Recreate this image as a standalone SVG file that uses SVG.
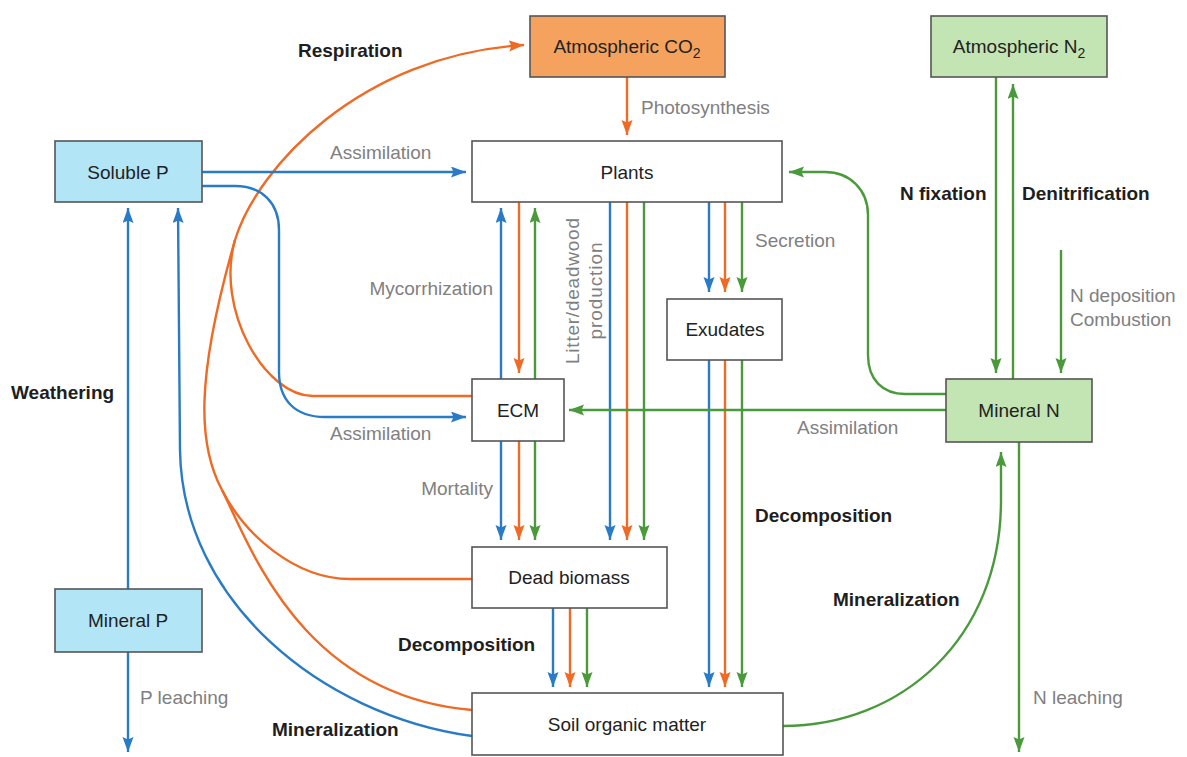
<svg xmlns="http://www.w3.org/2000/svg" width="1187" height="757" viewBox="0 0 1187 757">
<defs>
<style>
text{font-family:"Liberation Sans",Arial,sans-serif;font-size:19px}
.node{stroke:#555;stroke-width:1.6}
.nt{fill:#222;text-anchor:middle}
.gl{fill:#808080}
.bl{fill:#1e1e1e;font-weight:bold}
.b{stroke:#2a7bc6;stroke-width:2.4;fill:none}
.o{stroke:#ef6a24;stroke-width:2.4;fill:none}
.g{stroke:#4a9a3c;stroke-width:2.4;fill:none}
.mb{marker-end:url(#ab)}
.mo{marker-end:url(#ao)}
.mg{marker-end:url(#ag)}
</style>
<marker id="ab" markerUnits="userSpaceOnUse" markerWidth="16" markerHeight="12" refX="15" refY="5.5" orient="auto"><path d="M0,0 L15,5.5 L0,11 L2.5,5.5 z" fill="#2a7bc6"/></marker>
<marker id="ao" markerUnits="userSpaceOnUse" markerWidth="16" markerHeight="12" refX="15" refY="5.5" orient="auto"><path d="M0,0 L15,5.5 L0,11 L2.5,5.5 z" fill="#ef6a24"/></marker>
<marker id="ag" markerUnits="userSpaceOnUse" markerWidth="16" markerHeight="12" refX="15" refY="5.5" orient="auto"><path d="M0,0 L15,5.5 L0,11 L2.5,5.5 z" fill="#4a9a3c"/></marker>
</defs>
<rect width="1187" height="757" fill="#fff"/>

<g id="connectors">
<!-- Respiration (orange) -->
<path class="o mo" d="M222,490 C198,445 195,380 235,240 C257,168 360,55 524,45"/>
<path class="o" d="M472,579 L350,579 C295,579 245,535 222,490"/>
<path class="o" d="M472,710 C300,695 250,545 222,490"/>
<path class="o" d="M472,396 L313,396 C265,396 215,310 235,240"/>
<!-- Photosynthesis -->
<path class="o mo" d="M627,77 L627,135"/>
<!-- Soluble P -->
<path class="b mb" d="M202,172 L466,172"/>
<path class="b mb" d="M202,186 L235,186 C262,186 279,203 279,230 L279,372 C279,400 295,417 325,417 L466,417"/>
<path class="b mb" d="M128,589 L128,208"/>
<path class="b mb" d="M128,652 L128,752"/>
<path class="b mb" d="M472,736 C320,715 182,600 180,450 L178,208"/>
<!-- Plants <-> ECM -->
<path class="b mb" d="M501,379 L501,208"/>
<path class="o mo" d="M519,202 L519,373"/>
<path class="g mg" d="M535,379 L535,208"/>
<!-- ECM -> Dead biomass -->
<path class="b mb" d="M501,441 L501,540"/>
<path class="o mo" d="M519,441 L519,540"/>
<path class="g mg" d="M535,441 L535,540"/>
<!-- Plants -> Dead biomass -->
<path class="b mb" d="M610,202 L610,540"/>
<path class="o mo" d="M627,202 L627,540"/>
<path class="g mg" d="M644,202 L644,540"/>
<!-- Plants -> Exudates -->
<path class="b mb" d="M709,202 L709,292"/>
<path class="o mo" d="M725,202 L725,292"/>
<path class="g mg" d="M742,202 L742,292"/>
<!-- Exudates -> SOM -->
<path class="b mb" d="M709,360 L709,687"/>
<path class="o mo" d="M725,360 L725,687"/>
<path class="g mg" d="M742,360 L742,687"/>
<!-- Dead biomass -> SOM -->
<path class="b mb" d="M553,608 L553,687"/>
<path class="o mo" d="M570,608 L570,687"/>
<path class="g mg" d="M587,608 L587,687"/>
<!-- Nitrogen -->
<path class="g mg" d="M946,410 L569,410"/>
<path class="g mg" d="M946,394 L905,394 C883,394 868,380 868,355 L868,215 C868,190 850,172 825,172 L789,172"/>
<path class="g mg" d="M996,77 L996,373"/>
<path class="g mg" d="M1013,379 L1013,84"/>
<path class="g mg" d="M1061,250 L1061,373"/>
<path class="g mg" d="M1019,442 L1019,752"/>
<path class="g mg" d="M783,726 C900,726 1001,640 1001,500 L1001,452"/>
</g>

<g id="labels">
<text class="bl" x="298" y="57">Respiration</text>
<text class="gl" x="641" y="114">Photosynthesis</text>
<text class="gl" x="330" y="159">Assimilation</text>
<text class="gl" x="493" y="295" text-anchor="end">Mycorrhization</text>
<text class="gl" x="330" y="440">Assimilation</text>
<text class="gl" x="493" y="495" text-anchor="end">Mortality</text>
<text class="gl" transform="translate(588,291) rotate(-90)" text-anchor="middle" font-size="20"><tspan x="0" y="-9" textLength="146">Litter/deadwood</tspan><tspan x="0" y="14" textLength="97">production</tspan></text>
<text class="gl" x="755" y="247">Secretion</text>
<text class="bl" x="11" y="399">Weathering</text>
<text class="bl" x="900" y="200">N fixation</text>
<text class="bl" x="1022" y="200">Denitrification</text>
<text class="gl" x="1070" y="302">N deposition</text>
<text class="gl" x="1070" y="326">Combustion</text>
<text class="gl" x="797" y="434">Assimilation</text>
<text class="bl" x="755" y="522">Decomposition</text>
<text class="bl" x="833" y="606">Mineralization</text>
<text class="bl" x="398" y="651">Decomposition</text>
<text class="gl" x="140" y="704">P leaching</text>
<text class="bl" x="272" y="736">Mineralization</text>
<text class="gl" x="1033" y="704">N leaching</text>
</g>

<g id="atm-co2"><rect class="node" x="530" y="16" width="195" height="61" fill="#f5a25f"/><text class="nt" x="627" y="53">Atmospheric CO<tspan font-size="14" dy="5">2</tspan></text></g>
<g id="atm-n2"><rect class="node" x="931" y="16" width="176" height="61" fill="#c3e4b3"/><text class="nt" x="1019" y="53">Atmospheric N<tspan font-size="14" dy="5">2</tspan></text></g>
<g id="soluble-p"><rect class="node" x="55" y="141" width="147" height="61" fill="#b2e6f7"/><text class="nt" x="128" y="179">Soluble P</text></g>
<g id="plants"><rect class="node" x="472" y="141" width="310" height="61" fill="#fff"/><text class="nt" x="627" y="179">Plants</text></g>
<g id="exudates"><rect class="node" x="667" y="299" width="115" height="61" fill="#fff"/><text class="nt" x="725" y="336">Exudates</text></g>
<g id="ecm"><rect class="node" x="472" y="379" width="92" height="62" fill="#fff"/><text class="nt" x="518" y="417">ECM</text></g>
<g id="mineral-n"><rect class="node" x="946" y="379" width="146" height="63" fill="#c3e4b3"/><text class="nt" x="1019" y="417">Mineral N</text></g>
<g id="dead-biomass"><rect class="node" x="472" y="547" width="195" height="61" fill="#fff"/><text class="nt" x="569" y="584">Dead biomass</text></g>
<g id="mineral-p"><rect class="node" x="55" y="589" width="147" height="63" fill="#b2e6f7"/><text class="nt" x="128" y="627">Mineral P</text></g>
<g id="som"><rect class="node" x="472" y="693" width="311" height="62" fill="#fff"/><text class="nt" x="627" y="731">Soil organic matter</text></g>
</svg>
